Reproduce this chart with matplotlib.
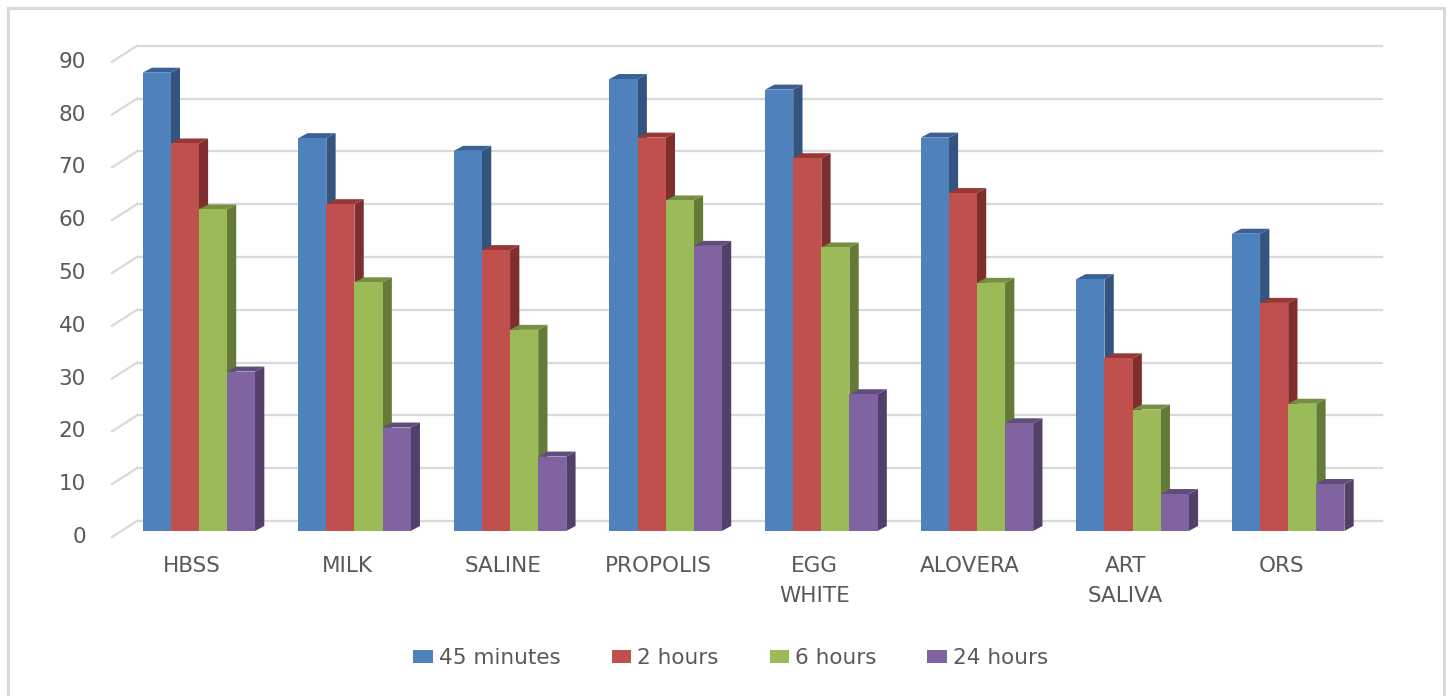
import matplotlib
matplotlib.use("Agg")
import matplotlib.pyplot as plt
from matplotlib.patches import Polygon, Rectangle, Patch
from matplotlib.lines import Line2D

# ---- data -------------------------------------------------------------
categories = ["HBSS", "MILK", "SALINE", "PROPOLIS", "EGG\nWHITE",
              "ALOVERA", "ART\nSALIVA", "ORS"]
series_names = ["45 minutes", "2 hours", "6 hours", "24 hours"]
min45 = [86.8, 74.4, 72.0, 85.6, 83.6, 74.5, 47.7, 56.3]
hr2 = [73.4, 61.9, 53.2, 74.5, 70.6, 64.0, 32.7, 43.2]
hr6 = [60.9, 47.1, 38.1, 62.6, 53.7, 47.0, 23.0, 24.1]
hr24 = [30.2, 19.6, 14.1, 54.0, 25.9, 20.4, 7.0, 8.9]
y_ticks = [0, 10, 20, 30, 40, 50, 60, 70, 80, 90]

series = [min45, hr2, hr6, hr24]
front_colors = ["#4F81BD", "#C0504D", "#9BBB59", "#8064A2"]
side_colors = ["#32547E", "#7E2F2D", "#647A37", "#52406A"]
top_colors = ["#3A6195", "#963836", "#788F43", "#614C7E"]
grid_color = "#D9D9D9"
text_color = "#595959"
font = "DejaVu Sans"

# ---- figure / axes ------------------------------------------------------
W, H, DPI = 1447, 696, 100
fig = plt.figure(figsize=(W / DPI, H / DPI), dpi=DPI)
fig.patch.set_facecolor("white")

ax_left, ax_right = 121, 1366          # front plane of the columns (px)
ax_bottom, ax_top = 531, 55.8           # value 0 and value 90 (px from top)
ax = fig.add_axes([ax_left / W, (H - ax_bottom) / H,
                   (ax_right - ax_left) / W, (ax_bottom - ax_top) / H])
n = len(categories)
ax.set_xlim(-0.5, n - 0.5)
ax.set_ylim(0, 90)
ax.axis("off")

# pixel -> data conversion factors (linear axes)
px_x = (ax_right - ax_left) / n
px_y = (ax_bottom - ax_top) / 90.0

def dx(px):
    return px / px_x

def dy(px):
    return px / px_y

# back wall and side wall offsets (px) relative to the column front plane
WALL_DX, WALL_DY = 16, 10
SIDE_DX, SIDE_DY = -9, -6
DEPTH_DX, DEPTH_DY = 9.3, 5.0

# gridlines on back wall + diagonal lines on the left wall
x0 = -0.5
for v in y_ticks:
    ax.add_line(Line2D([x0 + dx(WALL_DX), n - 0.5 + dx(WALL_DX)],
                       [v + dy(WALL_DY), v + dy(WALL_DY)],
                       color=grid_color, lw=1.6, clip_on=False, zorder=1))
    ax.add_line(Line2D([x0 + dx(SIDE_DX), x0 + dx(WALL_DX)],
                       [v + dy(SIDE_DY), v + dy(WALL_DY)],
                       color=grid_color, lw=1.6, clip_on=False, zorder=1))
    ax.text(x0 + dx(-35), v + dy(SIDE_DY), str(v), ha="right", va="center",
            fontsize=15.5, color=text_color, family=font, clip_on=False)

# 3-D looking clustered columns
group_w = 0.7224
bar_w = group_w / len(series)
ddx, ddy = dx(DEPTH_DX), dy(DEPTH_DY)
z = 2
for i in range(n):
    for j, vals in enumerate(series):
        v = vals[i]
        xl = i - group_w / 2 + j * bar_w
        xr = xl + bar_w
        front = Polygon([(xl, 0), (xr, 0), (xr, v), (xl, v)], closed=True,
                        facecolor=front_colors[j], edgecolor="none",
                        clip_on=False, zorder=z)
        side = Polygon([(xr, 0), (xr + ddx, ddy), (xr + ddx, v + ddy), (xr, v)],
                       closed=True, facecolor=side_colors[j], edgecolor="none",
                       clip_on=False, zorder=z)
        top = Polygon([(xl, v), (xr, v), (xr + ddx, v + ddy), (xl + ddx, v + ddy)],
                      closed=True, facecolor=top_colors[j], edgecolor="none",
                      clip_on=False, zorder=z)
        for p in (side, top, front):
            ax.add_patch(p)
        z += 1

# category labels
for i, lab in enumerate(categories):
    ax.text(i + dx(-7), dy(-25), lab, ha="center", va="top",
            fontsize=15.5, color=text_color, family=font,
            linespacing=1.6, clip_on=False)

# legend
handles = [Patch(facecolor=c, edgecolor="none") for c in front_colors]
fig.legend(handles, series_names, loc="center",
           bbox_to_anchor=(731 / W, (H - 658) / H), ncol=4, frameon=False,
           prop={"family": font, "size": 15.5}, labelcolor=text_color,
           handlelength=0.9, handleheight=0.6, handletextpad=0.3,
           columnspacing=2.35, borderpad=0)

# chart border
fig.add_artist(Rectangle((8.3 / W, -0.02), (1444 - 8.3) / W,
                         (H - 8.3) / H + 0.02, transform=fig.transFigure,
                         fill=False, edgecolor=grid_color, lw=2.2))

fig.savefig("out.png", dpi=DPI, facecolor="white")
